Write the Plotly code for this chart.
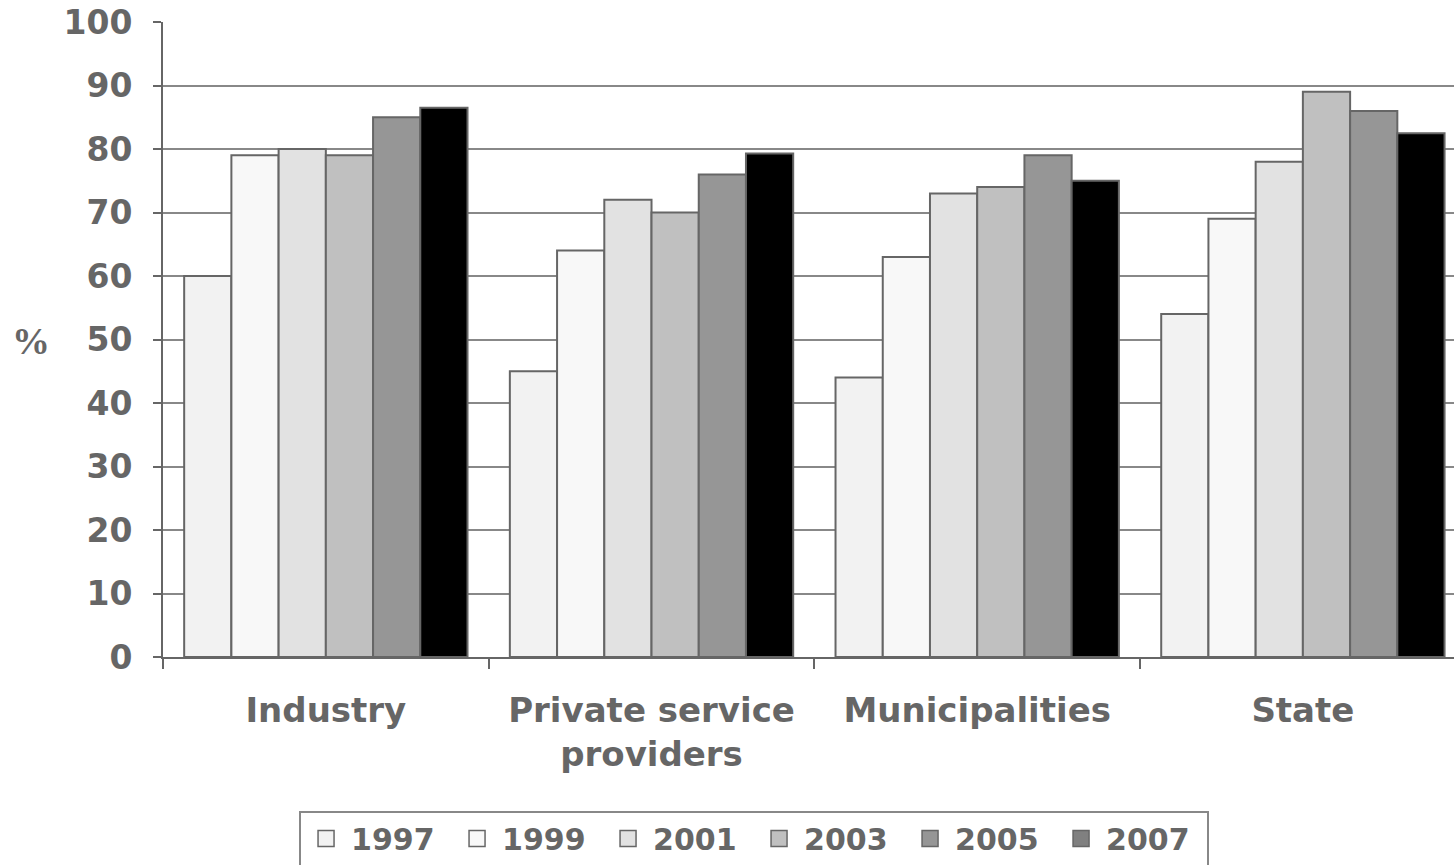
import plotly.graph_objects as go

categories = ["Industry", "Private service<br>providers", "Municipalities", "State"]
years = ["1997", "1999", "2001", "2003", "2005", "2007"]
v1997 = [60, 45, 44, 54]
v1999 = [79, 64, 63, 69]
v2001 = [80, 72, 73, 78]
v2003 = [79, 70, 74, 89]
v2005 = [85, 76, 79, 86]
v2007 = [86.5, 79.3, 75, 82.5]
series = [v1997, v1999, v2001, v2003, v2005, v2007]

bar_colors = ["#f2f2f2", "#f8f8f8", "#e2e2e2", "#c0c0c0", "#969696", "#000000"]
legend_colors = ["#f2f2f2", "#f8f8f8", "#e2e2e2", "#c0c0c0", "#969696", "#808080"]

FONT = "DejaVu Sans"
TXT = "#666666"

fig = go.Figure()
for yr, vals, c in zip(years, series, bar_colors):
    fig.add_trace(go.Bar(x=categories, y=vals, name=yr, showlegend=False,
                         marker=dict(color=c, line=dict(color="#666666", width=2))))
for yr, c in zip(years, legend_colors):
    fig.add_trace(go.Scatter(x=[None], y=[None], name=yr, mode="markers", showlegend=True,
                             marker=dict(symbol="square", size=20, color=c,
                                         line=dict(color="#666666", width=1.5))))

fig.update_layout(
    width=1454, height=865,
    margin=dict(l=163, r=0, t=22, b=208),
    plot_bgcolor="white", paper_bgcolor="white",
    barmode="group", bargap=0.13, bargroupgap=0,
    font=dict(family=FONT, color=TXT),
    showlegend=True,
    legend=dict(orientation="h", xref="container", yref="container",
                x=0.5186, xanchor="center", y=0.063, yanchor="top",
                font=dict(family=FONT, size=30, color=TXT, weight="bold"),
                bordercolor="#888888", borderwidth=2, bgcolor="white",
                traceorder="normal", entrywidth=96, entrywidthmode="pixels",
                itemwidth=40),
    annotations=[dict(text="<b>%</b>", xref="paper", yref="paper", x=-0.102, y=0.497,
                      xanchor="center", yanchor="middle", showarrow=False,
                      font=dict(family="Liberation Serif", size=38, color=TXT))],
)
fig.update_xaxes(range=[-0.5, 3.464], showline=True, linecolor="#666666", linewidth=2,
                 tickson="boundaries", ticks="outside", ticklen=10, tickcolor="#666666",
                 tickwidth=2, ticklabelstandoff=22,
                 tickfont=dict(family=FONT, size=34, color=TXT, weight="bold"))
fig.update_yaxes(range=[0, 100], dtick=10, showline=True, linecolor="#666666", linewidth=2,
                 ticks="outside", ticklen=8, tickcolor="#666666", tickwidth=2,
                 showgrid=True, gridcolor="#888888", gridwidth=2, zeroline=False,
                 ticklabelstandoff=14,
                 tickfont=dict(family=FONT, size=33, color=TXT, weight="bold"))

fig.write_html("out.html")
